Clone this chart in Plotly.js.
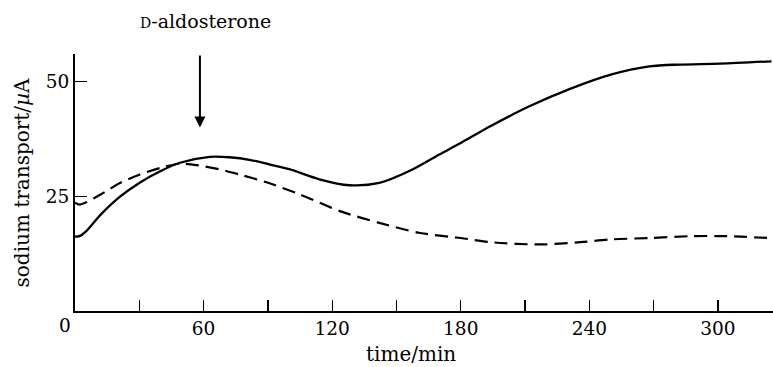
<!DOCTYPE html>
<html>
<head>
<meta charset="utf-8">
<script src="https://cdn.plot.ly/plotly-3.0.1.min.js"></script>
<style>html,body{margin:0;padding:0;background:#fff}#chart{width:773px;height:367px}</style>
</head>
<body>
<div id="chart"></div>
<script>
// time (min) and sodium transport (µA)
const solidTime = [0, 2, 5, 12, 21, 30, 40, 49, 63, 72, 82, 91, 100, 114, 128, 142, 156, 170, 180, 194, 212, 231, 250, 268, 282, 301, 325];
const solidVals = [16.2, 16.3, 17.3, 21.0, 24.9, 27.9, 30.5, 32.3, 33.6, 33.5, 32.9, 31.9, 30.9, 28.7, 27.4, 27.9, 30.5, 34.1, 36.6, 40.3, 44.6, 48.4, 51.5, 53.3, 53.7, 53.9, 54.4];
const dashTime = [0, 2.3, 12, 21, 30, 40, 49, 58, 68, 77, 89, 105, 124, 142, 161, 180, 194, 217, 236, 250, 268, 287, 304, 324];
const dashVals = [23.6, 23.2, 25.4, 27.9, 29.7, 31.2, 32.1, 31.7, 30.8, 29.7, 28.1, 25.4, 21.7, 19.2, 17.0, 15.9, 15.0, 14.5, 15.0, 15.6, 15.9, 16.3, 16.3, 15.9];
const xTicks = [30, 60, 90, 120, 150, 180, 210, 240, 270, 300];
const xTickText = ["", "60", "", "120", "", "180", "", "240", "", "300"];
const yTicks = [25, 50];
const yTickText = ["25", "50"];
const arrowTime = 58.3;
const arrowFrom = 56;
const arrowTo = 40;

const serif = "DejaVu Serif";
const traces = [
  {x: solidTime, y: solidVals, mode: "lines", line: {color: "#000", width: 2.3, shape: "spline", smoothing: 0.8}, hoverinfo: "skip"},
  {x: dashTime, y: dashVals, mode: "lines", line: {color: "#000", width: 2.2, dash: "13px,7px", shape: "spline", smoothing: 0.8}, hoverinfo: "skip"}
];
const layout = {
  width: 773, height: 367,
  margin: {l: 75, r: 0, t: 54, b: 56},
  paper_bgcolor: "#fff", plot_bgcolor: "#fff",
  showlegend: false,
  font: {family: serif, color: "#000", size: 19},
  xaxis: {
    range: [0, 325.7], showgrid: false, zeroline: false,
    showline: true, linecolor: "#000", linewidth: 2,
    tickmode: "array", tickvals: xTicks, ticktext: xTickText,
    ticks: "inside", ticklen: 11, tickwidth: 1.3, tickcolor: "#000",
    tickfont: {family: serif, size: 18.5, color: "#000"}
  },
  yaxis: {
    range: [0, 56], showgrid: false, zeroline: false,
    showline: true, linecolor: "#000", linewidth: 2,
    tickmode: "array", tickvals: yTicks, ticktext: yTickText,
    ticks: "inside", ticklen: 12, tickwidth: 1.3, tickcolor: "#000",
    tickfont: {family: serif, size: 18.5, color: "#000"}
  },
  annotations: [
    {x: arrowTime, y: arrowTo, ax: arrowTime, ay: arrowFrom, xref: "x", yref: "y", axref: "x", ayref: "y",
     showarrow: true, arrowhead: 2, arrowsize: 1.1, arrowwidth: 2, arrowcolor: "#000", text: ""},
    {x: 61, y: 1.13, xref: "x", yref: "paper", showarrow: false, xanchor: "center", yanchor: "middle",
     text: "<span style=\"font-size:14px\">D</span>-aldosterone", font: {family: serif, size: 19, color: "#000"}},
    {x: 0, y: 0, xref: "x", yref: "y", showarrow: false, xanchor: "right", yanchor: "top", xshift: -2, yshift: -2,
     text: "0", font: {family: serif, size: 18.5, color: "#000"}},
    {x: 157, y: -0.168, xref: "x", yref: "paper", showarrow: false, xanchor: "center", yanchor: "middle", borderpad: 0,
     text: "time/min", font: {family: serif, size: 20, color: "#000"}},
    {x: -0.076, y: 0.5, xref: "paper", yref: "paper", showarrow: false, xanchor: "center", yanchor: "middle", textangle: -90,
     text: "sodium transport/<i>µ</i>A", font: {family: serif, size: 20, color: "#000"}}
  ]
};
Plotly.newPlot("chart", traces, layout, {staticPlot: true, displayModeBar: false});
</script>
</body>
</html>
